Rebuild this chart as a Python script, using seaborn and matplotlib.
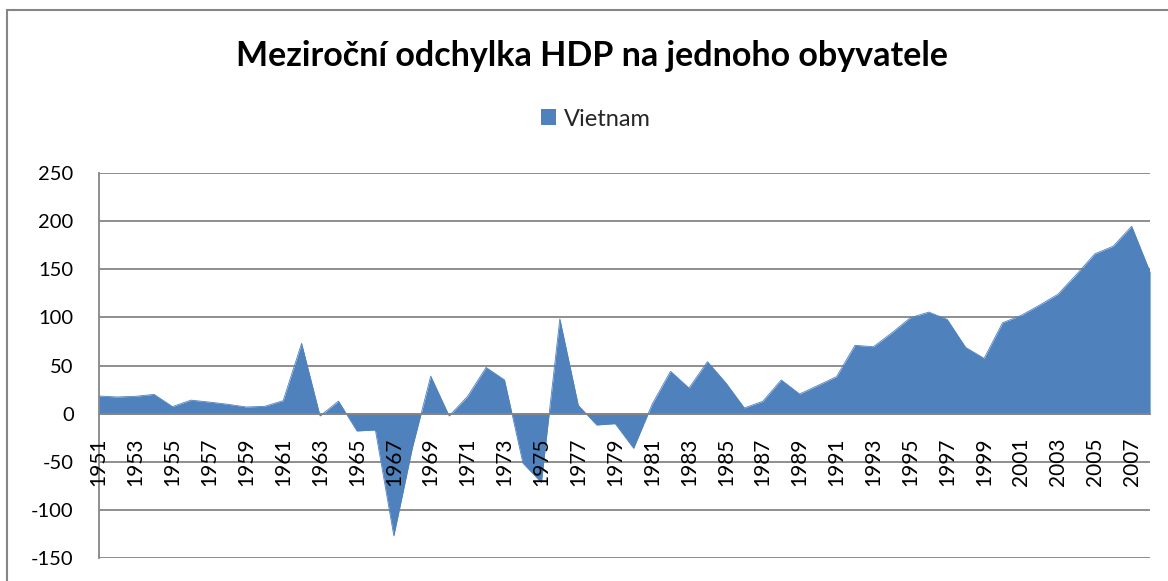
import numpy as np
import pandas as pd
import matplotlib
matplotlib.use("Agg")
import matplotlib.pyplot as plt
import seaborn as sns
from matplotlib.patches import Rectangle, Patch

# data
years = list(range(1951, 2009))
values = [18.3, 17.3, 18.0, 20.0, 7.3, 14.0, 12.0, 9.7, 6.9, 7.6,
          13.5, 73.0, -2.4, 13.0, -18.0, -17.0, -127.0, -36.0, 39.0, -2.4,
          18.0, 48.0, 35.0, -51.5, -71.6, 98.5, 8.6, -11.8, -10.4, -36.0,
          9.7, 44.0, 26.6, 54.0, 32.0, 5.9, 12.8, 35.0, 20.4, 29.4,
          38.4, 71.0, 69.5, 84.0, 99.6, 105.5, 97.9, 68.8, 57.4, 94.4,
          102.0, 112.7, 124.0, 144.5, 166.0, 174.0, 194.7, 147.0]
tick_years = list(range(1951, 2008, 2))
y_ticks = [-150, -100, -50, 0, 50, 100, 150, 200, 250]

series_name = "Vietnam"
title = "Meziroční odchylka HDP na jednoho obyvatele"

df = pd.DataFrame({"Rok": years, "Hodnota": values})

sns.set_theme(style="white")
plt.rcParams['font.family'] = ['Lato', 'DejaVu Sans']

AREA = '#4F81BD'
GRID = '#868686'

fig = plt.figure(figsize=(11.68, 5.81), dpi=100)
ax = fig.add_axes([0.0845, 0.0396, 0.9002, 0.6626])

# gridlines by hand, so the tick labels can sit above the area
for v in y_ticks:
    ax.axhline(v, color=GRID, linewidth=1.3, zorder=0.3)

ax.fill_between(df["Rok"], df["Hodnota"], 0, color=AREA, linewidth=0, zorder=1)
sns.lineplot(data=df, x="Rok", y="Hodnota", color=AREA, linewidth=0.6, ax=ax, zorder=1.1)

# spine position first - it resets the tick formatting
for s in ['top', 'right']:
    ax.spines[s].set_visible(False)
ax.spines['bottom'].set_position(('data', 0))
ax.spines['bottom'].set_color(GRID)
ax.spines['bottom'].set_linewidth(1.3)
ax.spines['left'].set_color(GRID)
ax.spines['left'].set_linewidth(1.3)

ax.set_xlim(years[0], years[-1])
ax.set_ylim(-150, 250)
ax.set_yticks(y_ticks)
ax.set_yticklabels([str(v) for v in y_ticks], fontsize=14.5, color='black')
ax.set_xticks(tick_years)
ax.set_xticklabels([str(y) for y in tick_years], rotation=90, fontsize=15, color='black')

ax.grid(False)
ax.set_axisbelow(False)
ax.tick_params(axis='x', length=0, pad=17)
ax.tick_params(axis='y', length=0, pad=18)
ax.set_xlabel('')
ax.set_ylabel('')

fig.text(0.507, 0.903, title, ha='center', va='center', fontsize=24.5,
         fontweight='bold', color='black')
fig.legend(handles=[Patch(facecolor=AREA, edgecolor='none', label=series_name)],
           loc='center', bbox_to_anchor=(0.51, 0.795), frameon=False,
           fontsize=17, handlelength=0.65, handleheight=0.65, handletextpad=0.3)

# outer chart frame
fig.patches.append(Rectangle((0.006, -0.05), 1.1, 1.033, transform=fig.transFigure,
                             fill=False, edgecolor=GRID, linewidth=1.5))

fig.savefig('out.png', dpi=100)
